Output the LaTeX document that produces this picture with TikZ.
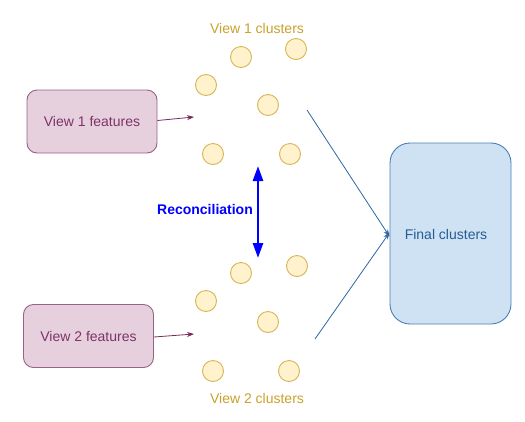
\documentclass[tikz,border=0pt]{standalone}
\usepackage{fontspec}
\setmainfont{Liberation Sans}
\usetikzlibrary{arrows.meta}
\definecolor{pinkfill}{HTML}{E6D0DE}
\definecolor{pinkdraw}{HTML}{996185}
\definecolor{pinktext}{HTML}{7E3466}
\definecolor{pinkarrow}{HTML}{7A2A5A}
\definecolor{yelfill}{HTML}{FFF2CC}
\definecolor{yeldraw}{HTML}{D6B656}
\definecolor{yeltext}{HTML}{C9A12C}
\definecolor{bluefill}{HTML}{CFE2F3}
\definecolor{bluedraw}{HTML}{4A7DB5}
\definecolor{bluetext}{HTML}{245C96}
\definecolor{bluearrow}{HTML}{2E65A3}
\begin{document}
\begin{tikzpicture}[x=1pt,y=-1pt,
  every node/.style={font=\fontsize{14}{16}\selectfont},
  featbox/.style={draw=pinkdraw,fill=pinkfill,rounded corners=10pt,line width=0.9pt,text=pinktext,minimum width=130pt,minimum height=63pt,inner sep=0pt},
  clus/.style={circle,draw=yeldraw,fill=yelfill,line width=0.9pt,minimum size=21pt,inner sep=0pt},
  clabel/.style={text=yeltext},
  featarrow/.style={draw=pinkarrow,line width=0.8pt,-{Stealth[length=7pt,width=5pt]}},
  finarrow/.style={draw=bluearrow,line width=0.8pt,-{Stealth[length=7pt,width=5pt]}}]
\useasboundingbox (0,0) rectangle (525,421);
% feature boxes
\node[featbox] (f1) at (92,121.5) {View 1 features};
\node[featbox] (f2) at (88.5,336) {View 2 features};
\coordinate (e1) at (194,117);
\coordinate (e2) at (194,334);
\draw[featarrow] (f1.east) ++(0,-1) coordinate (s1) -- (e1);
\draw[featarrow] (f2.east) ++(0,1) coordinate (s2) -- (e2);
% view 1 clusters
\node[clus] (a1) at (206,85) {};
\node[clus] (a2) at (241,57) {};
\node[clus] (a3) at (296,49) {};
\node[clus] (a4) at (268,105) {};
\node[clus] (a5) at (213,154) {};
\node[clus] (a6) at (290,154) {};
\node[clabel] (l1) at (257,28) {View 1 clusters};
% view 2 clusters
\node[clus] (b1) at (241,273) {};
\node[clus] (b2) at (297,266) {};
\node[clus] (b3) at (206,301) {};
\node[clus] (b4) at (268,322) {};
\node[clus] (b5) at (213,371) {};
\node[clus] (b6) at (289,371) {};
\node[clabel] (l2) at (257,398) {View 2 clusters};
% reconciliation
\coordinate (r1) at (258,166);
\coordinate (r2) at (258,258);
\draw[blue,line width=2.6pt,{Triangle[length=15pt,width=10pt]}-{Triangle[length=15pt,width=10pt]}] (r1) -- (r2);
\node[text=blue,font=\fontsize{14}{16}\selectfont\bfseries] (rec) at (205,209) {Reconciliation};
% final clusters
\node[draw=bluedraw,fill=bluefill,rounded corners=20pt,line width=0.9pt,minimum width=121pt,minimum height=181pt,inner sep=0pt] (fin) at (450.5,233.5) {};
\node[text=bluetext] (fint) at (446,234) {Final clusters};
\coordinate (t1) at (307,110);
\coordinate (t2) at (315,339);
\draw[finarrow] (t1) -- ([yshift=-3pt]fin.west);
\draw[finarrow] (t2) -- ([yshift=1pt]fin.west);
\end{tikzpicture}
\end{document}
